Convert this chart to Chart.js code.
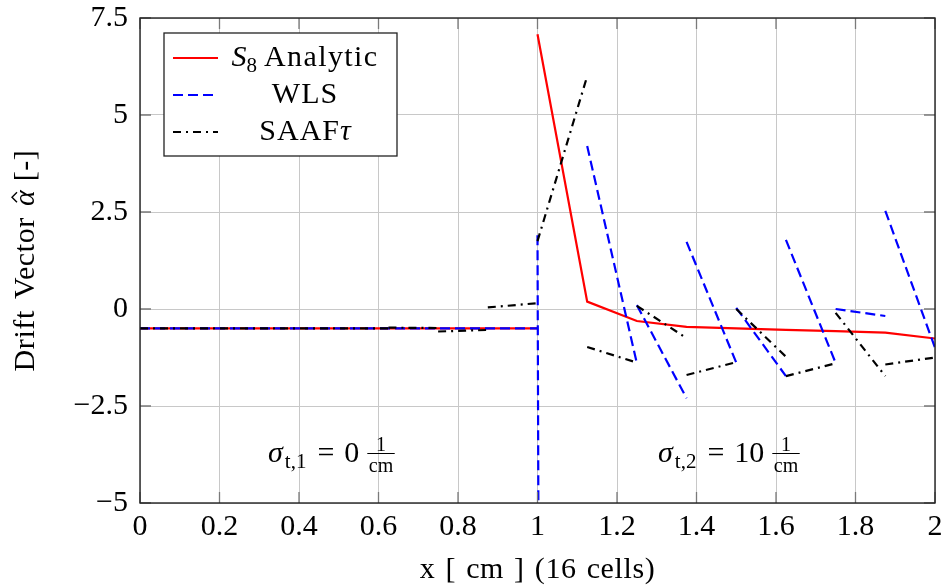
<!DOCTYPE html>
<html>
<head>
<meta charset="utf-8">
<script src="https://cdn.jsdelivr.net/npm/chart.js@4/dist/chart.umd.min.js"></script>
<style>
  html, body { margin: 0; padding: 0; background: #fff; }
  #wrap { width: 946px; height: 588px; }
</style>
</head>
<body>
<div id="wrap"><canvas id="driftChart" width="946" height="588"></canvas></div>
<script>
// cell edges, 16 cells on [0, 2]
const cellEdges = [0, 0.125, 0.25, 0.375, 0.5, 0.625, 0.75, 0.875, 1, 1.125, 1.25, 1.375, 1.5, 1.625, 1.75, 1.875, 2];

// S8 analytic (nodes, null = jump at the interface)
const s8X = [0, 1, 1, 1, 1.125, 1.25, 1.375, 1.5, 1.625, 1.75, 1.875, 2];
const s8Y = [-0.5, -0.5, null, 7.08, 0.19, -0.31, -0.46, -0.5, -0.54, -0.57, -0.61, -0.76];

// WLS, value at left / right end of each cell
const wlsLeft  = [-0.5, -0.5, -0.5, -0.5, -0.5, -0.5, -0.5, -0.5, 1.9, 4.2, 0.1, 1.73, 0.03, 1.78, 0.0, 2.53];
const wlsRight = [-0.5, -0.5, -0.5, -0.5, -0.5, -0.5, -0.5, -0.5, -400, -1.4, -2.3, -1.38, -1.73, -1.39, -0.18, -1.0];

// SAAF tau, value at left / right end of each cell
const saafLeft  = [-0.5, -0.5, -0.5, -0.5, -0.5, -0.48, -0.58, 0.04, 1.75, -0.98, 0.08, -1.7, 0.0, -1.73, -0.1, -1.43];
const saafRight = [-0.5, -0.5, -0.5, -0.5, -0.5, -0.49, -0.54, 0.15, 6.0, -1.38, -0.75, -1.37, -1.23, -1.4, -1.73, -1.25];

const xTicks = [0, 0.2, 0.4, 0.6, 0.8, 1, 1.2, 1.4, 1.6, 1.8, 2];
const yTicks = [-5, -2.5, 0, 2.5, 5, 7.5];

const FONT = "'Liberation Serif', 'DejaVu Serif', serif";

function nodePoints(xs, ys) {
    return xs.map((x, i) => ({ x: x, y: ys[i] }));
}

// piecewise linear per cell, break the line where it jumps
function cellPoints(left, right) {
    const pts = [];
    for (let i = 0; i < left.length; i++) {
        const x0 = cellEdges[i], x1 = cellEdges[i + 1];
        if (i === 0) {
            pts.push({ x: x0, y: left[i] });
        } else if (left[i] !== right[i - 1]) {
            pts.push({ x: x0, y: null });
            pts.push({ x: x0, y: left[i] });
        }
        pts.push({ x: x1, y: right[i] });
    }
    return pts;
}

function fmt(v) {
    const s = String(Math.round(v * 10) / 10);
    return v < 0 ? '\u2212' + s.slice(1) : s;
}

const big = '30px ' + FONT;
const bigIt = 'italic 30px ' + FONT;
const sub = '21px ' + FONT;
const small = '20px ' + FONT;

// text runs drawn one after another; {gap} adds space
function setRun(ctx, r) {
    ctx.font = r.font;
    ctx.letterSpacing = r.ls || '0px';
    ctx.wordSpacing = r.ws || '0px';
}
function runsWidth(ctx, runs) {
    let w = 0;
    runs.forEach(r => {
        if (r.gap) { w += r.gap; return; }
        setRun(ctx, r);
        w += ctx.measureText(r.text).width;
    });
    return w;
}
function drawRuns(ctx, runs, x, y) {
    const pos = [];
    runs.forEach(r => {
        if (r.gap) { x += r.gap; pos.push(null); return; }
        setRun(ctx, r);
        const w = ctx.measureText(r.text).width;
        ctx.fillText(r.text, x, y + (r.dy || 0));
        pos.push({ x: x, w: w });
        x += w;
    });
    ctx.letterSpacing = '0px';
    ctx.wordSpacing = '0px';
    pos.end = x;
    return pos;
}

function drawSigma(ctx, idx, val, x, y) {
    const runs = [
        { text: '\u03c3', font: bigIt },
        { gap: 2 },
        { text: 't,' + idx, font: sub, dy: 6 },
        { gap: 11 },
        { text: '=', font: big },
        { gap: 10 },
        { text: val, font: big },
        { gap: 8 }
    ];
    ctx.textAlign = 'left';
    ctx.textBaseline = 'alphabetic';
    const pos = drawRuns(ctx, runs, x, y);
    x = pos.end;
    // fraction 1/cm
    ctx.font = small;
    const fracW = ctx.measureText('cm').width + 3;
    ctx.textAlign = 'center';
    ctx.fillText('1', x + fracW / 2, y - 11);
    ctx.fillText('cm', x + fracW / 2, y + 10);
    ctx.beginPath();
    ctx.lineWidth = 1;
    ctx.moveTo(x, y - 8.5);
    ctx.lineTo(x + fracW, y - 8.5);
    ctx.stroke();
}

const decor = {
    id: 'decor',
    afterDatasetsDraw(chart) {
        const ctx = chart.ctx;
        const a = chart.chartArea;
        const xs = chart.scales.x, ys = chart.scales.y;
        ctx.save();
        // inner tick marks on all four sides
        ctx.strokeStyle = '#7a7a7a';
        ctx.lineWidth = 1.3;
        xTicks.forEach(t => {
            const px = xs.getPixelForValue(t);
            ctx.beginPath();
            ctx.moveTo(px, a.bottom); ctx.lineTo(px, a.bottom - 11);
            ctx.moveTo(px, a.top); ctx.lineTo(px, a.top + 11);
            ctx.stroke();
        });
        yTicks.forEach(t => {
            const py = ys.getPixelForValue(t);
            ctx.beginPath();
            ctx.moveTo(a.left, py); ctx.lineTo(a.left + 11, py);
            ctx.moveTo(a.right, py); ctx.lineTo(a.right - 11, py);
            ctx.stroke();
        });
        // frame
        ctx.strokeStyle = '#222';
        ctx.lineWidth = 1.4;
        ctx.strokeRect(a.left, a.top, a.right - a.left, a.bottom - a.top);

        // region labels
        ctx.fillStyle = '#000';
        ctx.strokeStyle = '#000';
        drawSigma(ctx, '1', '0', 268, 462);
        drawSigma(ctx, '2', '10', 658, 462);

        // axis titles
        ctx.textAlign = 'left';
        ctx.textBaseline = 'alphabetic';
        const xTitle = [{ text: 'x [ cm ] (16 cells)', font: big, ls: '0.6px', ws: '2px' }];
        drawRuns(ctx, xTitle, (a.left + a.right) / 2 - runsWidth(ctx, xTitle) / 2, 578);

        const yTitle = [
            { text: 'Drift Vector ', font: big, ls: '0.6px', ws: '3px' },
            { text: '\u03b1', font: bigIt },
            { gap: 9 },
            { text: '[-]', font: big, ls: '0.6px' }
        ];
        ctx.save();
        ctx.translate(34, (a.top + a.bottom) / 2);
        ctx.rotate(-Math.PI / 2);
        const yp = drawRuns(ctx, yTitle, -runsWidth(ctx, yTitle) / 2, 0);
        // hat over alpha
        const hx = yp[1].x + yp[1].w / 2 + 1;
        ctx.beginPath();
        ctx.lineWidth = 1.4;
        ctx.moveTo(hx - 5, -17);
        ctx.lineTo(hx, -22);
        ctx.lineTo(hx + 5, -17);
        ctx.stroke();
        ctx.restore();

        // legend
        const lx = 164, ly = 33, lw = 233, lh = 123;
        ctx.fillStyle = '#fff';
        ctx.fillRect(lx, ly, lw, lh);
        ctx.strokeStyle = '#222';
        ctx.lineWidth = 1.3;
        ctx.strokeRect(lx, ly, lw, lh);
        const rows = [
            { y: 58, color: '#ff0000', dash: [], runs: [
                { text: 'S', font: bigIt }, { text: '8', font: sub, dy: 6 }, { gap: 7 },
                { text: 'Analytic', font: big, ls: '1.4px' }] },
            { y: 95, color: '#0000ff', dash: [10, 5], runs: [{ text: 'WLS', font: big, ls: '1px' }] },
            { y: 132, color: '#000000', dash: [8, 5, 2, 5], runs: [
                { text: 'SAAF', font: big, ls: '1px' }, { text: '\u03c4', font: bigIt }] }
        ];
        rows.forEach(r => {
            ctx.beginPath();
            ctx.setLineDash(r.dash);
            ctx.strokeStyle = r.color;
            ctx.lineWidth = 2.2;
            ctx.moveTo(173, r.y);
            ctx.lineTo(218, r.y);
            ctx.stroke();
            ctx.setLineDash([]);
            ctx.fillStyle = '#000';
            ctx.textAlign = 'left';
            ctx.textBaseline = 'alphabetic';
            const w = runsWidth(ctx, r.runs);
            drawRuns(ctx, r.runs, 305 - w / 2, r.y + 8);
        });
        ctx.restore();
    }
};

const ctx = document.getElementById('driftChart').getContext('2d');
new Chart(ctx, {
    type: 'line',
    data: {
        datasets: [{
            label: 'S8 Analytic',
            data: nodePoints(s8X, s8Y),
            borderColor: '#ff0000',
            borderWidth: 2.2,
            order: 3
        }, {
            label: 'WLS',
            data: cellPoints(wlsLeft, wlsRight),
            borderColor: '#0000ff',
            borderWidth: 2.2,
            borderDash: [10, 5],
            order: 2
        }, {
            label: 'SAAF\u03c4',
            data: cellPoints(saafLeft, saafRight),
            borderColor: '#000000',
            borderWidth: 2.2,
            borderDash: [8, 5, 2, 5],
            order: 1
        }]
    },
    options: {
        responsive: false,
        animation: false,
        spanGaps: false,
        elements: {
            point: { radius: 0, hoverRadius: 0 },
            line: { tension: 0, fill: false }
        },
        layout: { padding: { top: 18, right: 11, left: 0, bottom: 0 } },
        scales: {
            x: {
                type: 'linear',
                min: 0,
                max: 2,
                afterFit: s => { s.height = 85; s.paddingLeft = 0; s.paddingRight = 0; },
                afterBuildTicks: s => { s.ticks = xTicks.map(v => ({ value: v })); },
                ticks: {
                    callback: v => fmt(v),
                    font: { family: FONT, size: 30 },
                    color: '#000',
                    padding: 6,
                    maxRotation: 0,
                    autoSkip: false
                },
                grid: { color: '#c8c8c8', lineWidth: 1, drawTicks: false },
                border: { display: false }
            },
            y: {
                min: -5,
                max: 7.5,
                afterFit: s => { s.width = 140; s.paddingTop = 0; s.paddingBottom = 0; },
                afterBuildTicks: s => { s.ticks = yTicks.map(v => ({ value: v })); },
                ticks: {
                    callback: v => fmt(v),
                    font: { family: FONT, size: 30 },
                    color: '#000',
                    padding: 12,
                    autoSkip: false
                },
                grid: { color: '#c8c8c8', lineWidth: 1, drawTicks: false },
                border: { display: false }
            }
        },
        plugins: {
            legend: { display: false },
            tooltip: { enabled: false }
        }
    },
    plugins: [decor]
});
</script>
</body>
</html>
